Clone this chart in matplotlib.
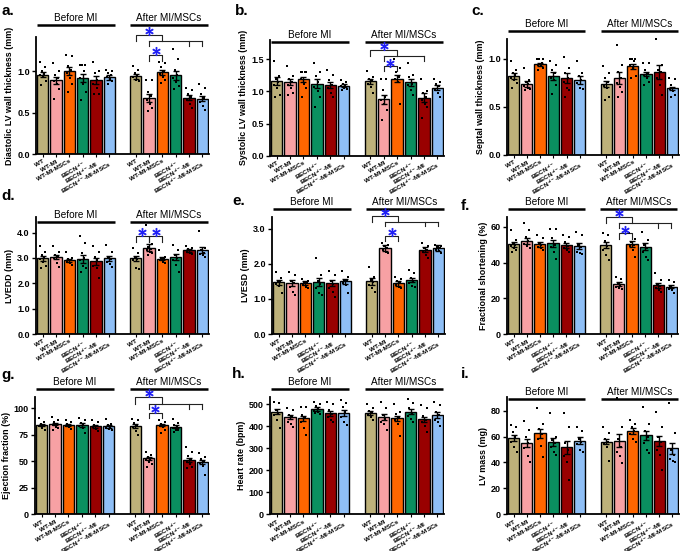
import matplotlib
matplotlib.use("Agg")
import matplotlib.pyplot as plt
from matplotlib.ticker import FormatStrFormatter

plt.rcParams['font.family'] = ['Liberation Sans', 'DejaVu Sans']
plt.rcParams['mathtext.fontset'] = 'custom'
plt.rcParams['mathtext.rm'] = 'Liberation Sans:bold'
plt.rcParams['mathtext.bf'] = 'Liberation Sans:bold'
plt.rcParams['mathtext.default'] = 'bf'

# ---------------- data ----------------
groups = ["Before MI", "After MI/MSCs"]
conditions = ["WT", "WT-MI", "WT-MI-MSCs", r"BECN$^{+/-}$",
              r"BECN$^{+/-}$-MI", r"BECN$^{+/-}$-MI-MSCs"]
colors = ["#BDB17A", "#F7A1A4", "#FF6600", "#0A9060", "#990000", "#8FBFF6"]

diastolic_mean = [0.96, 0.89, 1.00, 0.92, 0.89, 0.93, 0.94, 0.68, 0.99, 0.95, 0.68, 0.67]
diastolic_sem = [0.03, 0.04, 0.05, 0.05, 0.05, 0.03, 0.03, 0.05, 0.03, 0.05, 0.03, 0.03]
diastolic_pts = [
    [1.11, 1.05, 1.0, 0.97, 0.95, 0.93, 0.88, 0.83],
    [1.1, 1.0, 0.95, 0.92, 0.88, 0.84, 0.78, 0.67],
    [1.2, 1.18, 1.06, 1.02, 0.98, 0.92, 0.84, 0.75],
    [1.07, 1.07, 1.07, 1.0, 0.92, 0.85, 0.75, 0.65],
    [1.11, 1.0, 0.98, 0.9, 0.85, 0.8, 0.72, 0.72],
    [1.02, 1.0, 0.98, 0.96, 0.93, 0.91, 0.88, 0.85],
    [1.06, 1.02, 0.98, 0.95, 0.93, 0.9, 0.88],
    [0.9, 0.9, 0.75, 0.7, 0.65, 0.6, 0.55, 0.52],
    [1.11, 1.1, 1.05, 1.0, 0.97, 0.93, 0.9, 0.86],
    [1.27, 1.15, 1.02, 0.95, 0.92, 0.87, 0.82, 0.78],
    [0.8, 0.77, 0.72, 0.69, 0.65, 0.6, 0.55],
    [0.85, 0.8, 0.72, 0.68, 0.63, 0.58, 0.53],
]

systolic_mean = [1.16, 1.15, 1.19, 1.12, 1.10, 1.09, 1.16, 0.88, 1.20, 1.14, 0.90, 1.06]
systolic_sem = [0.06, 0.05, 0.04, 0.07, 0.05, 0.02, 0.04, 0.07, 0.05, 0.05, 0.07, 0.04]
systolic_pts = [
    [1.48, 1.24, 1.2, 1.15, 1.1, 1.05, 0.95, 0.92],
    [1.39, 1.24, 1.2, 1.15, 1.1, 1.05, 0.98, 0.95],
    [1.3, 1.3, 1.3, 1.3, 1.2, 1.12, 1.05, 0.92],
    [1.44, 1.3, 1.24, 1.15, 1.07, 1.0, 0.92, 0.76],
    [1.34, 1.25, 1.17, 1.1, 1.05, 0.98, 0.92],
    [1.18, 1.14, 1.12, 1.1, 1.08, 1.06, 1.04, 1.02],
    [1.32, 1.22, 1.2, 1.17, 1.12, 1.07, 0.97],
    [1.2, 1.2, 1.02, 0.92, 0.87, 0.8, 0.71, 0.55],
    [1.5, 1.36, 1.3, 1.22, 1.2, 1.15, 0.81],
    [1.44, 1.25, 1.22, 1.12, 1.1, 1.02, 0.95],
    [1.2, 1.0, 0.98, 0.92, 0.87, 0.8, 0.76, 0.58],
    [1.19, 1.15, 1.12, 1.08, 1.02, 0.97, 0.92],
]

septal_mean = [0.82, 0.74, 0.94, 0.82, 0.80, 0.78, 0.74, 0.80, 0.92, 0.84, 0.86, 0.69]
septal_sem = [0.03, 0.03, 0.015, 0.04, 0.05, 0.04, 0.03, 0.06, 0.025, 0.025, 0.07, 0.02]
septal_pts = [
    [0.98, 0.88, 0.85, 0.83, 0.8, 0.78, 0.75, 0.7],
    [0.9, 0.78, 0.76, 0.74, 0.72, 0.7, 0.68, 0.67],
    [1.0, 1.0, 1.0, 0.95, 0.93, 0.92, 0.9, 0.88],
    [0.97, 0.93, 0.88, 0.85, 0.8, 0.78, 0.73, 0.63],
    [1.02, 0.9, 0.85, 0.8, 0.76, 0.7, 0.67, 0.6],
    [0.98, 0.85, 0.82, 0.78, 0.75, 0.7, 0.68],
    [0.92, 0.85, 0.8, 0.76, 0.72, 0.7, 0.6, 0.57],
    [1.14, 0.93, 0.86, 0.8, 0.75, 0.71, 0.65, 0.6],
    [1.0, 1.0, 1.0, 0.98, 0.93, 0.9, 0.82, 0.8],
    [0.95, 0.95, 0.88, 0.85, 0.83, 0.8, 0.76, 0.73],
    [1.2, 0.93, 0.88, 0.86, 0.8, 0.73, 0.62],
    [0.8, 0.79, 0.73, 0.7, 0.68, 0.66, 0.62, 0.6],
]

lvedd_mean = [2.99, 3.03, 2.90, 2.96, 2.86, 2.98, 2.98, 3.40, 2.96, 3.02, 3.30, 3.30]
lvedd_sem = [0.10, 0.09, 0.06, 0.15, 0.15, 0.10, 0.10, 0.13, 0.06, 0.12, 0.05, 0.12]
lvedd_pts = [
    [3.45, 3.25, 3.1, 3.0, 2.95, 2.85, 2.7, 2.6],
    [3.45, 3.25, 3.1, 3.05, 3.0, 2.8, 2.65],
    [3.25, 3.0, 2.95, 2.9, 2.85, 2.8, 2.72],
    [3.85, 3.58, 3.18, 3.0, 2.92, 2.7, 2.6, 2.46],
    [3.45, 3.25, 3.05, 2.9, 2.7, 2.6, 2.2],
    [3.5, 3.25, 3.05, 2.95, 2.85, 2.75, 2.65],
    [3.38, 3.2, 3.05, 2.95, 2.9, 2.6, 2.55],
    [4.3, 3.55, 3.42, 3.35, 3.3, 3.22, 3.18, 3.1],
    [3.3, 3.05, 3.0, 2.95, 2.9, 2.85, 2.78],
    [3.5, 3.3, 3.1, 3.0, 2.9, 2.72, 2.46],
    [3.45, 3.4, 3.35, 3.3, 3.25, 3.2, 3.15],
    [4.05, 3.4, 3.3, 3.2, 3.15, 3.1, 3.05],
]

lvesd_mean = [1.48, 1.45, 1.45, 1.48, 1.45, 1.51, 1.50, 2.45, 1.45, 1.54, 2.40, 2.46]
lvesd_sem = [0.07, 0.09, 0.05, 0.12, 0.09, 0.07, 0.09, 0.08, 0.07, 0.07, 0.07, 0.08]
lvesd_pts = [
    [1.76, 1.6, 1.52, 1.48, 1.42, 1.38, 1.16],
    [1.78, 1.69, 1.52, 1.45, 1.35, 1.2, 1.11],
    [1.57, 1.52, 1.48, 1.45, 1.4, 1.35, 1.3],
    [2.16, 1.69, 1.5, 1.42, 1.3, 1.16, 1.12],
    [1.8, 1.69, 1.5, 1.42, 1.3, 1.2, 1.07],
    [1.8, 1.64, 1.55, 1.5, 1.45, 1.4, 1.16],
    [1.9, 1.64, 1.55, 1.48, 1.4, 1.3, 1.21],
    [2.6, 2.55, 2.5, 2.45, 2.4, 2.35, 2.3],
    [1.64, 1.58, 1.5, 1.45, 1.4, 1.35, 1.3],
    [1.83, 1.73, 1.6, 1.52, 1.45, 1.38, 1.35],
    [2.6, 2.5, 2.45, 2.4, 2.35, 2.25, 2.16],
    [2.55, 2.52, 2.48, 2.45, 2.4, 2.36, 2.32],
]

fs_mean = [50.2, 52.0, 50.2, 50.7, 49.6, 49.4, 49.8, 28.0, 50.4, 48.9, 27.2, 26.5]
fs_sem = [1.5, 1.8, 1.3, 2.0, 1.3, 1.6, 1.9, 0.9, 1.6, 1.8, 1.2, 1.0]
fs_pts = [
    [58, 52.6, 51, 50, 49, 48, 47, 46],
    [62, 58, 54.5, 52, 50.5, 49, 48],
    [55.4, 53.5, 51, 50, 48.5, 48, 47],
    [59, 59, 53.5, 50, 48.5, 46, 42],
    [55.4, 54.5, 51.7, 49, 48, 47, 46],
    [57, 55.4, 50, 48.5, 46, 45.5, 45],
    [56.3, 55.4, 52, 49, 47, 44, 41.4],
    [32, 30.5, 28.5, 27.5, 26.5, 25.5, 25],
    [56.3, 53, 51.5, 50, 49, 47, 43.3],
    [57, 52.6, 50, 48, 46, 43.3, 41.4],
    [34, 30, 28, 27, 25.5, 24.5, 23.5],
    [30, 29, 27, 26, 25, 24.5, 23],
]

ef_mean = [84.3, 85.2, 84.3, 84.3, 83.3, 83.0, 83.3, 52.8, 84.3, 82.7, 51.3, 49.7]
ef_sem = [1.3, 1.4, 1.3, 1.6, 1.4, 1.2, 1.8, 1.5, 1.3, 1.3, 2.2, 2.0]
ef_pts = [
    [90.5, 87.5, 85, 84, 83, 81.5, 80],
    [92, 89, 87, 85, 84, 82.5, 81, 80],
    [89, 87, 85.5, 84.5, 83, 82, 80.5],
    [91, 89, 86, 84.5, 83, 81, 76.4],
    [89, 87.5, 84.5, 83, 82, 80.5, 79],
    [89.6, 85.5, 84, 82.5, 81.5, 80.5, 79.5],
    [89.6, 89, 86, 84, 82, 79, 74.8],
    [59, 56, 54, 52.5, 51, 49, 47, 45],
    [89, 87, 85.5, 84.5, 83, 82, 80, 76.4],
    [89.6, 86, 84, 82.5, 81, 80, 79.5, 78],
    [63.8, 59, 55, 52, 49.5, 47, 45, 43.4],
    [57.5, 54.4, 52, 50, 48, 46, 37],
]

hr_mean = [467, 441, 436, 479, 459, 459, 462, 441, 436, 467, 432, 452]
hr_sem = [13, 10, 12, 8, 12, 14, 9, 13, 12, 11, 11, 13]
hr_pts = [
    [509, 505, 475, 460, 450, 429, 391],
    [485, 475, 450, 440, 421, 410, 395],
    [489, 489, 450, 440, 420, 391, 361],
    [512, 500, 490, 480, 470, 465, 455, 460],
    [512, 500, 475, 455, 440, 430, 421],
    [520, 505, 489, 467, 440, 420, 406],
    [500, 485, 470, 460, 450, 440, 429],
    [512, 482, 450, 435, 420, 410, 383],
    [500, 467, 455, 440, 430, 410, 355],
    [523, 505, 482, 460, 445, 435, 420],
    [497, 482, 445, 430, 420, 400, 375],
    [512, 497, 467, 450, 430, 420, 400],
]

lvmass_mean = [58.9, 54.8, 62.5, 56.0, 51.7, 56.8, 56.0, 56.6, 64.3, 61.0, 56.6, 50.9]
lvmass_sem = [2.5, 3.0, 3.5, 3.0, 5.0, 2.5, 2.0, 5.0, 2.5, 3.5, 4.0, 4.5]
lvmass_pts = [
    [68.9, 67.5, 63.5, 60, 56, 52, 48.3],
    [72, 65, 60, 55, 51, 45, 40.6],
    [81.7, 70, 66, 62, 58, 53, 44.5],
    [77.9, 60, 57, 55, 52, 48, 45.8],
    [77.9, 67.6, 55, 50, 45, 40, 26.5],
    [67.6, 64, 58, 56, 54, 50, 48.3],
    [67.5, 63, 58, 56, 54, 52, 41],
    [89.5, 67.6, 58, 52, 48, 45, 39.3],
    [72.8, 70, 67, 64, 62, 58, 56],
    [83, 70, 64, 60, 55, 50, 47],
    [79, 67.6, 60, 56, 50, 46, 34],
    [86, 62.5, 50, 46, 43, 41, 40],
]

ylabels = ["Diastolic LV wall thickness (mm)", "Systolic LV wall thickness (mm)",
           "Septal wall thickness (mm)", "LVEDD (mm)", "LVESD (mm)",
           "Fractional shortening (%)", "Ejection fraction (%)",
           "Heart rate (bpm)", "LV mass (mg)"]
letters = ["a.", "b.", "c.", "d.", "e.", "f.", "g.", "h.", "i."]

# ---------------- layout / style ----------------
W, H = 685, 551
fig = plt.figure(figsize=(W / 100, H / 100), dpi=100)

positions = list(range(6)) + list(range(7, 13))
offsets = [-0.22, 0.2, -0.08, 0.12, -0.18, 0.05, 0.22, -0.12]

panels = [
    dict(m=diastolic_mean, s=diastolic_sem, p=diastolic_pts, box=(36, 209, 37.3, 154), ymax=1.41,
         yt=[0, 0.5, 1.0], fmt="%.1f", hy=1.56, let=(1, 11)),
    dict(m=systolic_mean, s=systolic_sem, p=systolic_pts, box=(270, 444, 40, 155.7), ymax=1.8,
         yt=[0, 0.5, 1.0, 1.5], fmt="%.1f", hy=1.77, let=(235, 11)),
    dict(m=septal_mean, s=septal_sem, p=septal_pts, box=(507, 679, 39.3, 155), ymax=1.2,
         yt=[0, 0.5, 1.0], fmt="%.1f", hy=1.29, let=(471, 11)),
    dict(m=lvedd_mean, s=lvedd_sem, p=lvedd_pts, box=(36, 209, 217.3, 334), ymax=4.6,
         yt=[0, 1, 2, 3, 4], fmt="%.1f", hy=4.41, let=(1, 196)),
    dict(m=lvesd_mean, s=lvesd_sem, p=lvesd_pts, box=(272, 445, 217.3, 334), ymax=3.33,
         yt=[0, 1, 2, 3], fmt="%.1f", hy=3.57, let=(232, 201)),
    dict(m=fs_mean, s=fs_sem, p=fs_pts, box=(507, 678, 217.3, 334), ymax=65.3,
         yt=[0, 20, 40, 60], fmt="%d", hy=69.7, let=(461, 206)),
    dict(m=ef_mean, s=ef_sem, p=ef_pts, box=(35, 209, 397.3, 514.3), ymax=110.4,
         yt=[0, 25, 50, 75, 100], fmt="%d", hy=117.9, let=(1, 375)),
    dict(m=hr_mean, s=hr_sem, p=hr_pts, box=(270, 444, 397.3, 514.3), ymax=531.8,
         yt=[0, 100, 200, 300, 400, 500], fmt="%d", hy=568, let=(232, 374)),
    dict(m=lvmass_mean, s=lvmass_sem, p=lvmass_pts, box=(507, 679, 397.3, 514.3), ymax=90.3,
         yt=[0, 20, 40, 60, 80], fmt="%d", hy=89, let=(461, 374)),
]

brackets = {
    0: [("multi", 7, 9, 1.44, [8, 11, 12], 1.36, 1.30), ("simple", 8, 9, 1.20, 1.12)],
    1: [("multi", 7, 9, 1.65, [8, 11], 1.55, 1.48), ("simple", 8, 9, 1.39, 1.31)],
    3: [("simple", 7, 8, 3.87, 3.64), ("simple", 8, 9, 3.87, 3.64)],
    4: [("multi", 7, 9, 3.37, [8, 11, 12], 3.21, 3.07), ("simple", 8, 9, 2.80, 2.64)],
    5: [("multi", 7, 9, 65.3, [8, 11, 12], 62.3, 59.1), ("simple", 8, 9, 56.3, 53.0)],
    6: [("multi", 7, 9, 110.4, [8, 11, 12], 104.0, 99.4), ("simple", 8, 9, 95.3, 90.6)],
}

blk = "#222222"
star_color = "#1F1FF5"


def star(ax, x, y, ymax):
    ax.plot([x], [y + 0.033 * ymax], marker=r'$\ast$', ms=6, color=star_color,
            mec=star_color, mew=0.6, clip_on=False, zorder=6)


for idx, P in enumerate(panels):
    L, R, T, B = P['box']
    ax = fig.add_axes([L / W, 1 - B / H, (R - L) / W, (B - T) / H])
    ax.set_xlim(-0.5, 12.5)
    ax.set_ylim(0, P['ymax'])
    for i, pos in enumerate(positions):
        c = colors[i % 6]
        ax.bar(pos, P['m'][i], width=0.85, color=c, edgecolor='black', linewidth=1.0, zorder=2)
        ax.errorbar(pos, P['m'][i], yerr=P['s'][i], fmt='none', ecolor='black',
                    elinewidth=1.0, capsize=2.2, capthick=1.0, zorder=4)
        pts = P['p'][i]
        xs = [pos + offsets[k % len(offsets)] for k in range(len(pts))]
        ax.scatter(xs, pts, s=2.6, color='black', marker='s', linewidths=0, zorder=5,
                   clip_on=False)
    for sp in ['top', 'right']:
        ax.spines[sp].set_visible(False)
    for sp in ['left', 'bottom']:
        ax.spines[sp].set_linewidth(1.3)
    ax.set_yticks(P['yt'])
    ax.yaxis.set_major_formatter(FormatStrFormatter(P['fmt']))
    ax.tick_params(axis='y', labelsize=6.5, width=1.0, length=3, pad=1.5)
    ax.tick_params(axis='x', labelsize=4.6, width=0.8, length=2.5, pad=1)
    for lab in ax.get_yticklabels():
        lab.set_fontweight('bold')
    ax.set_xticks(positions)
    ax.set_xticklabels(conditions * 2, rotation=30, ha='right', rotation_mode='anchor',
                       fontweight='bold')
    ax.set_ylabel(ylabels[idx], fontsize=6.4, fontweight='bold', labelpad=2)

    for g, g0 in enumerate([0, 7]):
        ax.plot([g0 - 0.4, g0 + 5.4], [P['hy'], P['hy']], color='black', lw=1.8,
                clip_on=False, solid_capstyle='butt')
        ax.annotate(groups[g], xy=(g0 + 2.5, P['hy']), xytext=(0, 1.5),
                    textcoords='offset points', ha='center', va='bottom', fontsize=7.2,
                    annotation_clip=False)

    for br in brackets.get(idx, []):
        if br[0] == "simple":
            _, x1, x2, y, yd = br
            ax.plot([x1, x1, x2, x2], [yd, y, y, yd], color=blk, lw=0.8, clip_on=False)
            star(ax, (x1 + x2) / 2, y, P['ymax'])
        else:
            _, x1, xj, y, drops, yl, yd = br
            ax.plot([x1, x1, xj, xj], [yl, y, y, yl], color=blk, lw=0.8, clip_on=False)
            ax.plot([min(drops), max(drops)], [yl, yl], color=blk, lw=0.8, clip_on=False)
            for d in drops:
                ax.plot([d, d], [yl, yd], color=blk, lw=0.8, clip_on=False)
            star(ax, (x1 + xj) / 2, y, P['ymax'])

    fig.text(P['let'][0] / W, 1 - P['let'][1] / H, letters[idx], fontsize=11,
             fontweight='bold', ha='left', va='center')

fig.savefig("out.png", dpi=100)
